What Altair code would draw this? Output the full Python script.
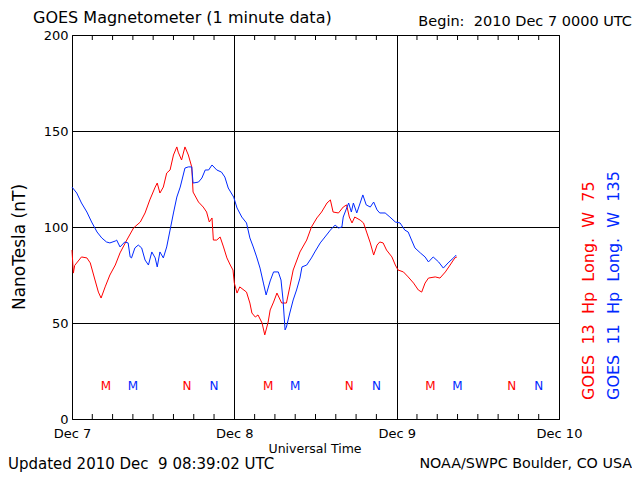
import altair as alt
import pandas as pd

# ---- data (hours since 2010 Dec 7 00:00 UT, nT) ----
red_hours = [0.0, 0.2, 0.4, 1.4, 2.2, 2.7, 3.4, 3.9, 4.3, 4.9, 5.6, 6.4, 7.1, 8.1, 9.1, 10.1, 10.8, 11.5,
             12.3, 12.6, 13.0, 13.5, 14.0, 14.5, 15.0, 15.5, 15.7, 16.2, 16.7, 17.2, 17.7, 17.9, 18.7, 19.4,
             19.9, 20.3, 20.7, 20.9, 21.4, 21.9, 22.4, 22.9, 23.4, 23.8, 24.0, 24.4, 24.8, 25.8, 26.3, 26.6,
             27.1, 27.5, 28.1, 28.5, 29.0, 29.3, 29.8, 30.3, 31.0, 31.7, 32.2, 32.7, 33.7, 34.7, 35.4, 36.2,
             36.9, 37.7, 38.2, 38.6, 39.4, 40.1, 40.6, 41.0, 41.4, 41.8, 42.6, 43.1, 43.6, 44.1, 44.6, 45.1,
             45.5, 46.0, 46.5, 47.3, 47.8, 48.2, 49.0, 49.7, 50.5, 51.2, 51.7, 52.2, 52.7, 53.7, 54.4, 55.2,
             55.9, 56.6, 56.9]
red_nt = [88.0, 76.0, 80.0, 84.4, 83.9, 81.3, 72.4, 66.1, 63.0, 68.8, 75.0, 80.2, 86.5, 93.2, 99.5, 102.6, 107.3, 114.1,
          120.8, 122.9, 117.7, 120.8, 128.1, 129.7, 137.5, 141.7, 139.0, 134.9, 141.7, 137.5, 131.3, 118.2, 113.0, 110.4,
          107.8, 102.6, 104.7, 93.2, 93.2, 94.8, 89.6, 83.9, 80.2, 77.6, 70.8, 65.6, 68.8, 66.1, 60.4, 55.2,
          53.1, 54.2, 50.0, 43.8, 50.5, 56.8, 60.9, 65.6, 60.4, 60.4, 68.8, 77.6, 87.0, 93.2, 100.0, 104.7,
          107.8, 112.5, 114.1, 107.8, 107.3, 110.4, 111.5, 105.2, 102.1, 105.2, 103.6, 102.1, 96.9, 91.7, 85.4, 90.6,
          92.2, 91.7, 88.0, 84.4, 80.2, 77.6, 76.6, 74.0, 70.8, 67.2, 66.1, 70.8, 73.4, 74.0, 73.4, 76.6,
          80.2, 83.9, 84.4]

blue_hours = [0.0, 0.7, 1.4, 2.2, 2.9, 3.7, 4.4, 5.1, 5.6, 6.4, 6.6, 7.1, 7.8, 8.3, 8.6, 8.8, 9.3, 9.8, 10.3,
              10.8, 11.3, 11.8, 12.3, 12.6, 13.0, 13.5, 14.0, 14.5, 15.0, 15.5, 16.0, 16.7, 17.2, 17.7, 17.9,
              18.7, 19.2, 19.7, 20.2, 20.7, 21.4, 22.1, 22.6, 23.1, 23.9, 24.4, 25.1, 25.8, 26.3, 26.8, 27.3,
              27.8, 28.3, 28.7, 29.3, 29.8, 30.5, 30.9, 31.2, 31.5, 31.7, 32.2, 32.7, 33.2, 33.7, 34.0, 34.7,
              35.4, 35.9, 36.7, 37.4, 38.2, 38.9, 39.4, 39.9, 40.1, 40.9, 41.3, 41.6, 42.1, 42.6, 43.0, 43.5,
              44.1, 44.6, 45.1, 45.5, 46.3, 47.0, 47.8, 48.5, 49.2, 49.7, 50.2, 50.7, 51.5, 52.2, 52.7, 53.4,
              54.2, 54.9, 55.6, 56.4, 56.8]
blue_nt = [120.8, 117.7, 112.5, 107.8, 102.6, 97.4, 94.3, 92.2, 91.7, 92.7, 93.2, 89.6, 92.2, 91.7, 84.4, 83.9, 89.1, 90.6, 89.1,
           82.8, 80.2, 87.0, 83.9, 79.2, 87.0, 83.9, 89.6, 98.4, 107.3, 115.6, 120.8, 130.7, 131.3, 131.3, 122.9,
           123.4, 125.5, 129.7, 129.7, 132.3, 129.7, 128.6, 126.0, 120.3, 115.6, 109.9, 105.2, 102.1, 94.3, 89.6, 84.4,
           78.6, 70.8, 64.6, 71.9, 76.6, 76.6, 72.4, 62.0, 46.4, 47.9, 55.2, 62.0, 67.2, 73.4, 79.2, 80.2,
           83.9, 87.0, 91.7, 94.8, 98.4, 101.0, 99.5, 100.0, 105.2, 112.5, 107.8, 112.5, 107.3, 112.5, 116.7, 111.5,
           110.4, 113.0, 108.9, 107.3, 107.3, 105.2, 102.6, 102.1, 98.4, 97.4, 93.2, 89.1, 86.5, 84.4, 81.8, 84.4,
           81.8, 78.6, 81.3, 83.9, 85.4]

series_names = ["GOES 13", "GOES 11"]
series_colors = ["#ff0000", "#0028ff"]

# local midnight (M) and noon (N) markers
marker_hours = [5, 9, 17, 21, 29, 33, 41, 45, 53, 57, 65, 69]
marker_text = ["M", "M", "N", "N", "M", "M", "N", "N", "M", "M", "N", "N"]
marker_sat = ["GOES 13", "GOES 11"] * 6
marker_level = 17

x_tick_values = [0, 24, 48, 72]
x_tick_labels = ["Dec 7", "Dec 8", "Dec 9", "Dec 10"]
minor_tick_hours = [h for h in range(3, 72, 3) if h % 24 != 0]
y_tick_values = [0, 50, 100, 150, 200]

FONT = "DejaVu Sans"
W, H = 487, 384
SP = "\u00a0"

lines_df = pd.DataFrame({
    "hour": red_hours + blue_hours,
    "nT": red_nt + blue_nt,
    "sat": ["GOES 13"] * len(red_hours) + ["GOES 11"] * len(blue_hours),
})
markers_df = pd.DataFrame({"hour": marker_hours, "txt": marker_text, "sat": marker_sat,
                           "nT": [marker_level] * len(marker_hours)})
minor_df = pd.DataFrame({"hour": minor_tick_hours})

label_expr = " : ".join(
    f"datum.value == {v} ? '{t}'" for v, t in zip(x_tick_values[:-1], x_tick_labels[:-1])
) + f" : '{x_tick_labels[-1]}'"

x_scale = alt.Scale(domain=[0, 72], nice=False, zero=False)
y_scale = alt.Scale(domain=[0, 200], nice=False)
color_scale = alt.Scale(domain=series_names, range=series_colors)

base_x = alt.X("hour:Q", scale=x_scale,
               axis=alt.Axis(values=x_tick_values, labelExpr=label_expr, grid=True, gridColor="black",
                             gridOpacity=1, gridWidth=1, ticks=False, tickSize=0, domain=False,
                             labelFont=FONT, labelFontSize=13, labelColor="black", labelPadding=8,
                             labelFlush=False, labelOverlap=False, title=None))
base_y = alt.Y("nT:Q", scale=y_scale,
               axis=alt.Axis(values=y_tick_values, grid=True, gridColor="black", gridOpacity=1, gridWidth=1,
                             ticks=False, tickSize=0, domain=False, labelFont=FONT, labelFontSize=13,
                             labelColor="black", labelPadding=4, labelFlush=False, labelOverlap=False,
                             title=None))

lines = alt.Chart(lines_df).mark_line(strokeWidth=1, interpolate="linear").encode(
    x=base_x, y=base_y,
    color=alt.Color("sat:N", scale=color_scale, legend=None),
    detail="sat:N",
)

markers = alt.Chart(markers_df).mark_text(font=FONT, fontSize=12, baseline="middle", align="center").encode(
    x=alt.X("hour:Q", scale=x_scale),
    y=alt.Y("nT:Q", scale=y_scale),
    text="txt:N",
    color=alt.Color("sat:N", scale=color_scale, legend=None),
)

top_ticks = alt.Chart(minor_df).mark_rule(color="black", strokeWidth=1).encode(
    x=alt.X("hour:Q", scale=x_scale), y=alt.value(0), y2=alt.value(5))
bot_ticks = alt.Chart(minor_df).mark_rule(color="black", strokeWidth=1).encode(
    x=alt.X("hour:Q", scale=x_scale), y=alt.value(H - 5), y2=alt.value(H))


def label(text, x, y, size, align="left", angle=0, color="black", baseline="middle"):
    kw = dict(font=FONT, fontSize=size, align=align, baseline=baseline, color=color)
    if angle:
        kw["angle"] = angle
    return alt.Chart(pd.DataFrame({"t": [text]})).mark_text(**kw).encode(
        x=alt.value(x), y=alt.value(y), text="t:N")


gap = SP * 2
texts = [
    label("GOES Magnetometer (1 minute data)", -39, -17, 16),
    label(f"Begin:{SP}{SP}2010 Dec 7 0000 UTC", 560, -13, 14.5, align="right"),
    label("NanoTesla (nT)", -52, 212, 17, align="center", angle=270),
    label("Universal Time", 243, 414, 12.5, align="center"),
    label(gap.join(["GOES", "13", "Hp", "Long.", "W", "75"]), 517, 365, 16, angle=270, color=series_colors[0]),
    label(gap.join(["GOES", "11", "Hp", "Long.", "W", "135"]), 542, 365, 16, angle=270, color=series_colors[1]),
    label(f"Updated 2010 Dec{SP}{SP}9 08:39:02 UTC", -64, 429, 15),
    label("NOAA/SWPC Boulder, CO USA", 560, 429, 14.3, align="right"),
]

chart = alt.layer(lines, markers, top_ticks, bot_ticks, *texts).properties(
    width=W, height=H,
    autosize=alt.AutoSizeParams(type="none"),
    padding={"left": 64, "top": 27, "right": 73, "bottom": 53},
    background="white",
).configure_view(stroke="black", strokeWidth=1)

chart.save("out.html", embed_options={"renderer": "svg", "actions": False})
